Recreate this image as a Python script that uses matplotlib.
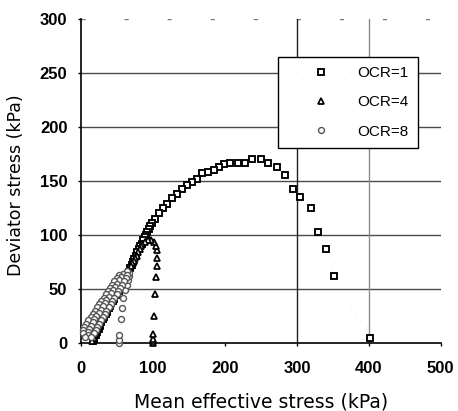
import matplotlib
matplotlib.use("Agg")
import matplotlib.pyplot as plt

# OCR=1 (squares): mean effective stress p (kPa), deviator stress q (kPa)
p_ocr1 = [401, 352, 341, 330, 320, 304, 294, 283, 272, 260, 250, 238, 228, 218, 207,
          198, 191, 184, 176, 168, 161, 154, 147, 140, 133, 126, 119, 113, 108, 103,
          98, 96, 94, 92, 90, 88, 86, 84, 82, 80, 78, 76, 74, 72, 70, 68, 66, 64,
          62, 60, 58, 56, 54, 52, 50, 48, 46, 44, 42, 40, 38, 36, 34, 32, 30, 28,
          26, 24, 22, 20, 18, 16]
q_ocr1 = [5, 62, 87, 103, 125, 135, 143, 156, 163, 167, 170, 170, 167, 167, 167,
          166, 163, 160, 158, 157, 152, 149, 146, 143, 138, 134, 129, 125, 120, 115,
          111, 108, 106, 103, 100, 98, 95, 92, 90, 87, 84, 81, 78, 75, 72, 69, 66, 63,
          61, 58, 56, 53, 51, 48, 46, 44, 41, 39, 37, 34, 32, 29, 27, 24, 22, 19,
          16, 13, 10, 7, 4, 2]

# OCR=4 (triangles)
p_ocr4 = [100, 100, 100, 100, 101, 103, 104, 105, 106, 106, 104, 101, 97, 93, 89,
          85, 83, 81, 79, 77, 75, 73, 71, 69, 67, 65, 63, 61, 59, 57, 55, 53, 51,
          49, 47, 45, 43, 41, 39, 37, 35, 33, 31, 29, 27, 25, 23, 21, 19, 17, 15]
q_ocr4 = [0, 2, 4, 8, 25, 45, 61, 71, 79, 86, 90, 94, 95, 95, 94,
          92, 90, 87, 84, 81, 79, 76, 74, 71, 68, 66, 63, 61, 58, 56, 53, 51, 49,
          46, 44, 41, 39, 37, 34, 32, 30, 27, 25, 23, 20, 17, 14, 11, 8, 5, 2]

# OCR=8 (circles)
p_ocr8 = [52, 52, 53, 55, 56, 58, 61, 63, 65, 66, 66, 64,
          58, 52, 64, 55, 49, 62, 52, 46, 59, 50, 43, 56, 47, 40, 54, 44, 37, 51,
          41, 34, 49, 38, 31, 46, 35, 28, 43, 33, 25, 41, 30, 22, 38, 27, 19, 35,
          24, 16, 33, 21, 13, 30, 18, 10, 28, 16, 7, 25, 13, 4, 22, 11, 3, 20,
          9, 3, 17, 10, 5, 14]
q_ocr8 = [0, 3, 7, 22, 32, 42, 49, 54, 58, 62, 65, 67,
          64, 63, 63, 61, 60, 60, 58, 57, 57, 55, 54, 54, 52, 51, 51, 49, 48, 48,
          46, 45, 45, 43, 42, 42, 40, 39, 39, 37, 36, 36, 34, 33, 33, 31, 30, 30,
          28, 27, 27, 25, 24, 24, 22, 21, 21, 19, 18, 18, 16, 15, 15, 13, 12, 12,
          10, 9, 9, 7, 6, 6]

labels = ["OCR=1", "OCR=4", "OCR=8"]
x_ticks = [0, 100, 200, 300, 400, 500]
y_ticks = [0, 50, 100, 150, 200, 250, 300]

fig = plt.figure(figsize=(4.58, 4.11), dpi=100)
ax = fig.add_axes([0.1775, 0.1655, 0.7847, 0.788])

# grid (as in the scanned original)
for yv in y_ticks[1:-1]:
    ax.axhline(yv, color="#4a4a4a", lw=1.0, zorder=1)
ax.axhline(300, color="#777777", lw=1.0, dashes=(3, 28), zorder=1)
ax.axvline(300, color="#222222", lw=1.0, zorder=1)
ax.axvline(400, color="#8a8a8a", lw=1.0, zorder=1)

line_kw = dict(color="#cccccc", lw=0.5, linestyle=(0, (1, 12)), clip_on=False, zorder=3)
ax.plot(p_ocr1, q_ocr1, marker="s", ms=4.8, mfc="white", mec="black", mew=1.35,
        label=labels[0], **line_kw)
ax.plot(p_ocr4, q_ocr4, marker="^", ms=4.4, mfc="white", mec="black", mew=1.25,
        label=labels[1], **line_kw)
ax.plot(p_ocr8, q_ocr8, marker="o", ms=4.3, mfc="white", mec="#555555", mew=1.0,
        label=labels[2], **line_kw)

ax.set_xlim(0, 500)
ax.set_ylim(0, 300)
ax.set_xticks(x_ticks)
ax.set_yticks(y_ticks)
for s in ["top", "right"]:
    ax.spines[s].set_visible(False)
for s in ["left", "bottom"]:
    ax.spines[s].set_linewidth(1.2)
    ax.spines[s].set_color("black")

ax.tick_params(axis="both", direction="out", length=2, width=1)
ax.tick_params(axis="x", pad=11)
ax.tick_params(axis="y", pad=8)
for lab in ax.get_xticklabels() + ax.get_yticklabels():
    lab.set_fontfamily("Liberation Sans")
    lab.set_fontweight("bold")
    lab.set_fontsize(12)

ax.set_xlabel("Mean effective stress (kPa)", fontsize=13.5, family="DejaVu Sans")
ax.set_ylabel("Deviator stress (kPa)", fontsize=12.5, family="DejaVu Sans")
ax.xaxis.set_label_coords(0.5, -0.154)
ax.yaxis.set_label_coords(-0.157, 0.487)

leg = ax.legend(loc="upper left", bbox_to_anchor=(0.547, 0.883), borderaxespad=0,
                numpoints=1, handlelength=4.4, handletextpad=0.2, borderpad=0.6,
                labelspacing=1.0, fancybox=False, framealpha=1, edgecolor="black",
                prop={"family": "Liberation Sans", "size": 11})
leg.get_frame().set_linewidth(1.0)

fig.savefig("out.png", dpi=100)
